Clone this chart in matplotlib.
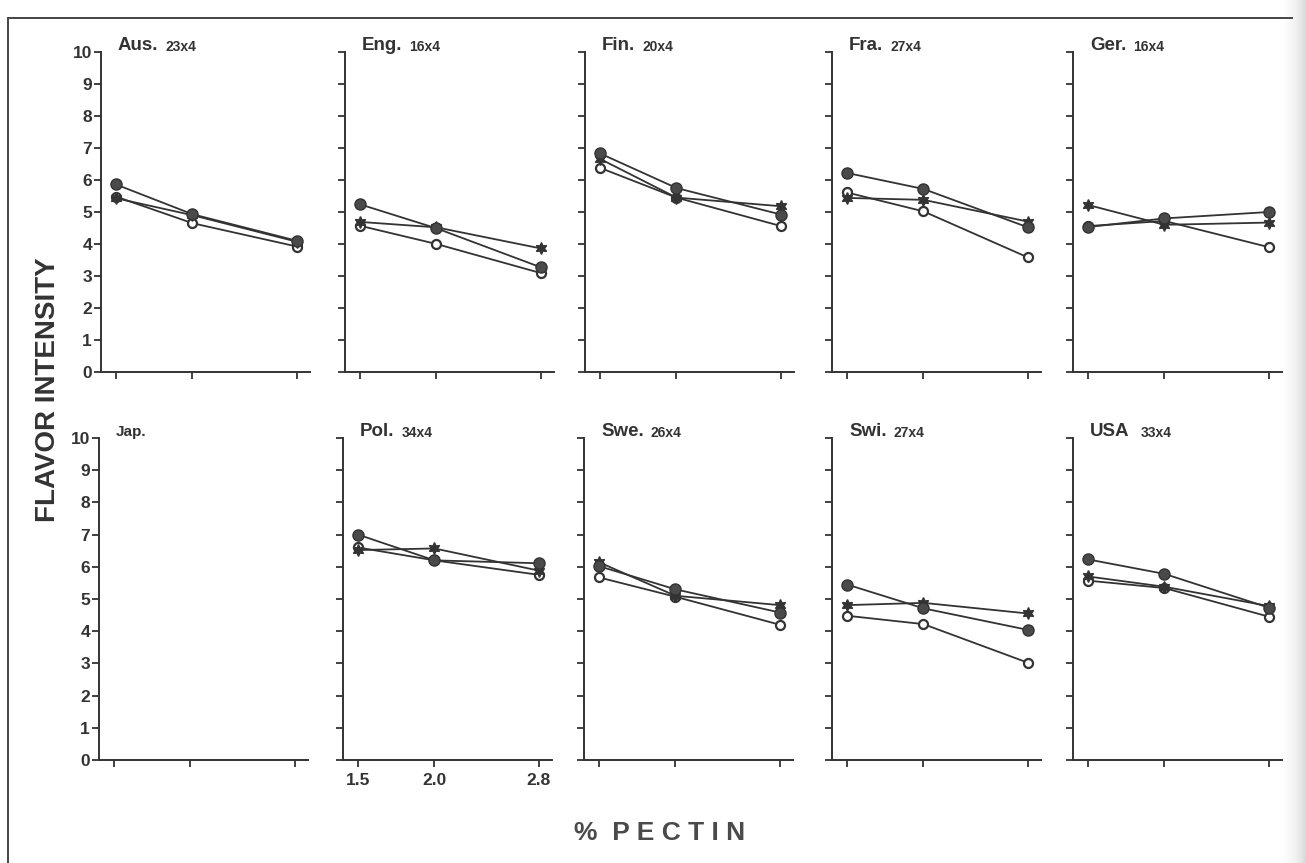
import matplotlib.pyplot as plt
import numpy as np
from matplotlib.lines import Line2D

plt.rcParams['font.family'] = ['Liberation Sans', 'DejaVu Sans']
plt.rcParams['font.weight'] = 'bold'

# % pectin levels (x axis)
pectin = [1.5, 2.0, 2.8]
pectin_labels = ['1.5', '2.0', '2.8']

# panels, left to right, top row then bottom row
countries = ['Aus.', 'Eng.', 'Fin.', 'Fra.', 'Ger.',
             'Jap.', 'Pol.', 'Swe.', 'Swi.', 'USA']
panel_n = ['23x4', '16x4', '20x4', '27x4', '16x4',
           '', '34x4', '26x4', '27x4', '33x4']

# flavor intensity, one list per panel (Jap. has no data)
filled_circle = [
    [5.86, 4.93, 4.10], [5.24, 4.49, 3.27], [6.83, 5.75, 4.92],
    [6.22, 5.72, 4.52], [4.53, 4.80, 5.00], [],
    [7.00, 6.20, 6.11], [6.02, 5.30, 4.58], [5.45, 4.71, 4.04],
    [6.23, 5.78, 4.73],
]
open_circle = [
    [5.48, 4.65, 3.92], [4.57, 4.00, 3.09], [6.38, 5.45, 4.56],
    [5.61, 5.02, 3.58], [4.56, 4.72, 3.90], [],
    [6.60, 6.20, 5.75], [5.67, 5.07, 4.20], [4.48, 4.22, 3.02],
    [5.57, 5.34, 4.45],
]
star = [
    [5.43, 4.90, 4.07], [4.69, 4.52, 3.86], [6.66, 5.45, 5.18],
    [5.44, 5.38, 4.70], [5.22, 4.60, 4.67], [],
    [6.52, 6.57, 5.88], [6.14, 5.10, 4.81], [4.81, 4.88, 4.55],
    [5.70, 5.38, 4.78],
]

INK = '#333333'
W, H = 1306, 863
fig = plt.figure(figsize=(W / 100, H / 100), dpi=100)


def px_axes(left, top, width, height):
    return fig.add_axes([left / W, 1 - (top + height) / H, width / W, height / H])


# panel boxes in pixels: (left, top, width, height)
lefts_top = [101, 345, 585, 832, 1073]
lefts_bot = [99, 343, 584, 832, 1073]
boxes = [(x, 52, 209, 320) for x in lefts_top] + [(x, 438, 209, 322) for x in lefts_bot]

# scanned page: light shading on the right edge
sh = fig.add_axes([1280 / W, 0, 26 / W, 1])
grad = np.linspace(0, 1, 60) ** 1.5
sh.imshow(grad[None, :], aspect='auto', cmap='Greys', vmin=0, vmax=4,
          extent=(0, 1, 0, 1))
sh.axis('off')

for i, name in enumerate(countries):
    ax = px_axes(*boxes[i])
    ax.set_facecolor('none')
    ax.set_xscale('function', functions=(np.sqrt, np.square))
    ax.set_xlim(1.41, 2.909)
    ax.set_ylim(0, 10)
    for s in ['top', 'right']:
        ax.spines[s].set_visible(False)
    for s in ['left', 'bottom']:
        ax.spines[s].set_linewidth(1.4)
        ax.spines[s].set_color(INK)
    ax.set_xticks(pectin)
    ax.set_yticks(range(11))
    ax.tick_params(direction='out', length=5, width=1.3, color=INK,
                   labelcolor=INK, labelsize=12.5)
    ax.tick_params(axis='y', pad=1.5)
    ax.tick_params(axis='x', pad=4)
    if i % 5 == 0:
        ax.set_yticklabels([str(v) for v in range(11)])
    else:
        ax.set_yticklabels([])
    if name == 'Pol.':
        ax.set_xticklabels(pectin_labels)
    else:
        ax.set_xticklabels([])
    ax.minorticks_off()

    if filled_circle[i]:
        ax.plot(pectin, open_circle[i], color=INK, lw=1.3, marker='o', ms=6.5,
                mfc='white', mec=INK, mew=1.6, clip_on=False, zorder=3)
        ax.plot(pectin, star[i], color=INK, lw=1.3, marker=(6, 1, 0), ms=8.5,
                mfc=INK, mec=INK, clip_on=False, zorder=3)
        ax.plot(pectin, filled_circle[i], color=INK, lw=1.3, marker='o', ms=8,
                mfc='#4a4a4a', mec=INK, clip_on=False, zorder=4)

    t = ax.text(17 / 209, 1.005, name, transform=ax.transAxes, ha='left',
                va='baseline', fontsize=11 if name == 'Jap.' else 13.5,
                color=INK, fontweight='bold')
    if panel_n[i]:
        gap = 8 if name == 'USA' else 5
        ax.annotate(panel_n[i], xy=(1, 0), xycoords=t, xytext=(gap, 0),
                    textcoords='offset points', ha='left', va='bottom',
                    fontsize=10, color=INK, fontweight='bold')

fig.text(48 / W, 1 - 390 / H, 'FLAVOR INTENSITY', rotation=90, ha='center',
         va='center', fontsize=20, fontweight='bold', color=INK)
fig.text(660 / W, 1 - 833 / H, '%  P E C T I N', ha='center', va='center',
         fontsize=19, fontweight='bold', color='#4a4a4a')

# frame of the printed figure
fig.add_artist(Line2D([8 / W, 8 / W], [0, 1 - 18 / H], color='#444444', lw=1.4))
fig.add_artist(Line2D([8 / W, 1292 / W], [1 - 18 / H, 1 - 18 / H],
                      color='#444444', lw=1.4))

fig.savefig('out.png', dpi=100)
